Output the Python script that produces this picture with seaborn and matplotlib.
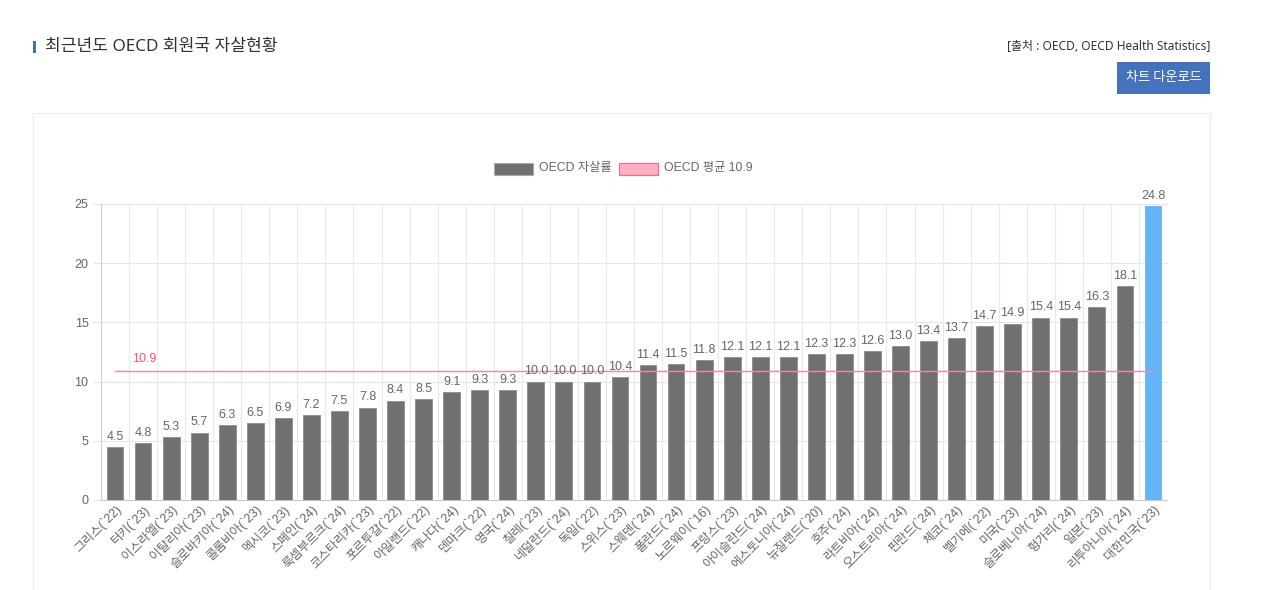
import matplotlib
matplotlib.use("Agg")
import matplotlib.pyplot as plt
from matplotlib.patches import Rectangle
import seaborn as sns
import pandas as pd

countries = ["그리스(`22)", "터키(`23)", "이스라엘(`23)", "이탈리아(`23)", "슬로바키아(`24)",
             "콜롬비아(`23)", "멕시코(`23)", "스페인(`24)", "룩셈부르크(`24)", "코스타리카(`23)",
             "포르투갈(`22)", "아일랜드(`22)", "캐나다(`24)", "덴마크(`22)", "영국(`24)",
             "칠레(`23)", "네덜란드(`24)", "독일(`22)", "스위스(`23)", "스웨덴(`24)",
             "폴란드(`24)", "노르웨이(`16)", "프랑스(`23)", "아이슬란드(`24)", "에스토니아(`24)",
             "뉴질랜드(`20)", "호주(`24)", "라트비아(`24)", "오스트리아(`24)", "핀란드(`24)",
             "체코(`24)", "벨기에(`22)", "미국(`23)", "슬로베니아(`24)", "헝가리(`24)",
             "일본(`23)", "리투아니아(`24)", "대한민국(`23)"]
rates = [4.5, 4.8, 5.3, 5.7, 6.3, 6.5, 6.9, 7.2, 7.5, 7.8,
         8.4, 8.5, 9.1, 9.3, 9.3, 10.0, 10.0, 10.0, 10.4, 11.4,
         11.5, 11.8, 12.1, 12.1, 12.1, 12.3, 12.3, 12.6, 13.0, 13.4,
         13.7, 14.7, 14.9, 15.4, 15.4, 16.3, 18.1, 24.8]
oecd_avg = 10.9
highlight = "대한민국(`23)"
y_ticks = [0, 5, 10, 15, 20, 25]

title = "최근년도 OECD 회원국 자살현황"
source = "[출처 : OECD, OECD Health Statistics]"
button = "차트 다운로드"
legend_bar = "OECD 자살률"
legend_avg = "OECD 평균 10.9"

sns.set_theme(style="white")
plt.rcParams["font.family"] = ["Liberation Sans", "Noto Sans CJK KR", "DejaVu Sans"]

GRAY = "#707070"
BLUE = "#64b5f6"
TXT = "#666666"
RED = "#ff4d6a"
PINK = "#ffb1c1"

df = pd.DataFrame({"country": countries, "rate": rates})
df["grp"] = ["kr" if c == highlight else "oecd" for c in countries]

fig = plt.figure(figsize=(12.8, 5.9), dpi=100)
W, H = 1280, 590

# card border
fig.patches.append(Rectangle((33 / W, -0.1), (1210 - 33) / W, 0.1 + 1 - 113 / H,
                             transform=fig.transFigure, fill=False,
                             edgecolor="#ececec", linewidth=1.0, zorder=0))

ax = fig.add_axes([101 / W, 1 - 500 / H, (1167 - 101) / W, (500 - 204) / H])
sns.barplot(data=df, x="country", y="rate", hue="grp",
            palette={"oecd": GRAY, "kr": BLUE}, dodge=False, legend=False,
            width=0.6, saturation=1, ax=ax, edgecolor="#8c8c8c", linewidth=0.6, zorder=3)
for p in ax.patches:
    if abs(p.get_height() - max(rates)) < 1e-6:
        p.set_edgecolor(BLUE)

n = len(countries)
ax.set_xlim(-0.5, n - 0.5)
ax.set_ylim(0, 25)
ax.set_yticks(y_ticks)
ax.set_yticklabels([str(t) for t in y_ticks])
ax.set_xlabel("")
ax.set_ylabel("")

# grid
for t in y_ticks[1:]:
    ax.axhline(t, color="#e6e6e6", lw=0.8, zorder=0, clip_on=False)
for i in range(n + 1):
    ax.axvline(i - 0.5, color="#e9e9e9", lw=0.8, zorder=0)
for s in ["top", "right"]:
    ax.spines[s].set_visible(False)
ax.spines["left"].set_color("#d0d0d0")
ax.spines["bottom"].set_color("#c8c8c8")
ax.spines["left"].set_linewidth(0.8)
ax.spines["bottom"].set_linewidth(0.8)

ax.set_xticks([i - 0.5 for i in range(n + 1)], minor=True)
ax.tick_params(axis="x", which="minor", length=6, color="#e0e0e0", width=0.8)
ax.tick_params(axis="x", which="major", length=0, pad=2, labelsize=9, labelcolor=TXT)
ax.tick_params(axis="y", length=6, color="#e6e6e6", width=0.8, pad=3,
               labelsize=9, labelcolor=TXT, left=True)
ax.set_xticks(range(n))
ax.set_xticklabels(countries, rotation=45, ha="right", rotation_mode="anchor")

# value labels
for i, v in enumerate(rates):
    ax.annotate(f"{v:.1f}", (i, v), xytext=(0, 3), textcoords="offset points",
                ha="center", va="bottom", fontsize=9, color=TXT, zorder=5)

# average line
ax.plot([0, n - 1], [oecd_avg, oecd_avg], color="#f08aa0", lw=1.0, zorder=4)
ax.annotate(f"{oecd_avg}", (0, oecd_avg), xytext=(12, 4), textcoords="offset points",
            ha="left", va="bottom", fontsize=9, color=RED, zorder=5)

# legend
fig.patches.append(Rectangle((494 / W, 1 - 175 / H), 39 / W, 12 / H, transform=fig.transFigure,
                             facecolor=GRAY, edgecolor="#aaaaaa", lw=0.8))
fig.text(539 / W, 1 - 168 / H, legend_bar, fontsize=8.8, color=TXT, va="center", ha="left")
fig.patches.append(Rectangle((619 / W, 1 - 175 / H), 39 / W, 12 / H, transform=fig.transFigure,
                             facecolor=PINK, edgecolor="#ff6384", lw=0.8))
fig.text(664 / W, 1 - 168 / H, legend_avg, fontsize=8.8, color=TXT, va="center", ha="left")

# header
fig.patches.append(Rectangle((33 / W, 1 - 53 / H), 3 / W, 12 / H, transform=fig.transFigure,
                             facecolor="#4a6fb5", edgecolor="none"))
fig.text(45 / W, 1 - 47 / H, title, fontsize=12.3, color="#333333", va="center", ha="left",
         family=["Noto Sans", "Noto Sans CJK KR", "DejaVu Sans"], fontweight="medium")
fig.text(1210 / W, 1 - 46 / H, source, fontsize=8.6, color="#333333", va="center", ha="right",
         family=["Noto Sans", "Noto Sans CJK KR", "DejaVu Sans"])
fig.patches.append(Rectangle((1117 / W, 1 - 94 / H), 93 / W, 32 / H, transform=fig.transFigure,
                             facecolor="#4472bd", edgecolor="none"))
fig.text(1163.5 / W, 1 - 78 / H, button, fontsize=9.5, color="white", va="center", ha="center",
         family=["Noto Sans CJK KR", "DejaVu Sans"])

fig.savefig("out.png", dpi=100, facecolor="white")
